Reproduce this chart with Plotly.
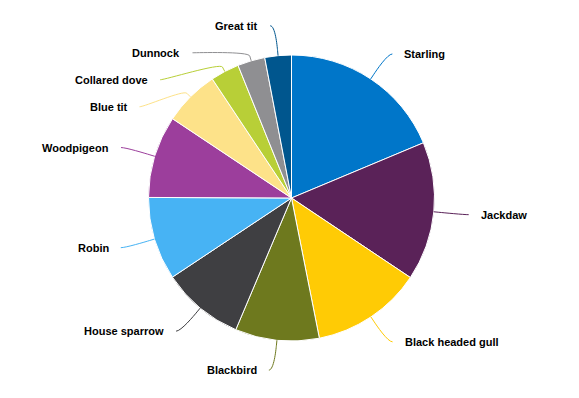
import math
import plotly.graph_objects as go

# ---- data ----
birds = ["Starling", "Jackdaw", "Black headed gull", "Blackbird", "House sparrow",
         "Robin", "Woodpigeon", "Blue tit", "Collared dove", "Dunnock", "Great tit"]
shares = [18.7, 15.7, 12.5, 9.5, 9.3, 9.4, 9.3, 6.3, 3.25, 3.1, 3.0]
colors = ["#0076C9", "#5A2258", "#FFCB05", "#6E791E", "#3F3F42", "#47B3F4",
          "#9C3E9C", "#FDE289", "#B8CF37", "#8F8F92", "#00568E"]

# ---- geometry (page body has an 8px margin) ----
OFF = 8
W, H = 579 - OFF, 398 - OFF
CX, CY, R = 291.5 - OFF, 198.0 - OFF, 143.0
DIST = 30.0
FONT = "Liberation Sans"

fig = go.Figure()
fig.add_trace(go.Pie(
    labels=birds, values=shares, sort=False, direction="clockwise", rotation=0,
    marker=dict(colors=colors, line=dict(color="white", width=1)),
    textinfo="none", hoverinfo="label+value", showlegend=False,
    domain=dict(x=[(CX - R) / W, (CX + R) / W], y=[(H - CY - R) / H, (H - CY + R) / H]),
))

total = sum(shares)
mids = []
acc = 0.0
for v in shares:
    mids.append((acc + v / 2) / total * 2 * math.pi)
    acc += v


def pt(a, r):
    return CX + r * math.sin(a), CY - r * math.cos(a)


# natural label y positions and simple distribution per side
labs = []
for i, a in enumerate(mids):
    side = 1 if math.sin(a) >= 0 else -1
    labs.append(dict(i=i, a=a, side=side, y=pt(a, R + DIST)[1]))

SPACING = 27
for side in (1, -1):
    group = sorted([l for l in labs if l["side"] == side], key=lambda l: l["y"])
    for k in range(1, len(group)):
        if group[k]["y"] < group[k - 1]["y"] + SPACING:
            group[k]["y"] = group[k - 1]["y"] + SPACING

shapes = []
annotations = []


def px(x):
    return x / W


def py(y):
    return 1 - y / H


for l in labs:
    a, s, y = l["a"], l["side"], l["y"]
    dy = y - CY
    dx = math.sqrt(max((R + DIST) ** 2 - dy ** 2, 0))
    ax = CX + s * dx
    col = colors[l["i"]]
    tx, ty = pt(a, R)
    bx, by = pt(a, R + 5)
    c2x, c2y = pt(a, R + 10)
    p0x = ax + s * 5
    path = (f"M {px(p0x)},{py(y)} C {px(ax)},{py(y)} {px(c2x)},{py(c2y)} {px(bx)},{py(by)} "
            f"L {px(tx)},{py(ty)}")
    shapes.append(dict(type="path", path=path, xref="paper", yref="paper",
                       line=dict(color=col, width=1), layer="above"))
    annotations.append(dict(
        x=px(ax + s * 15), y=py(y), xref="paper", yref="paper",
        text=f"<b>{birds[l['i']]}</b>", showarrow=False,
        xanchor="left" if s > 0 else "right", yanchor="middle",
        font=dict(family=FONT, size=11, color="#000000"),
    ))

fig.update_layout(
    width=W, height=H, autosize=False,
    margin=dict(l=0, r=0, t=0, b=0),
    paper_bgcolor="white", plot_bgcolor="white",
    shapes=shapes, annotations=annotations,
)

fig.write_html("out.html")
